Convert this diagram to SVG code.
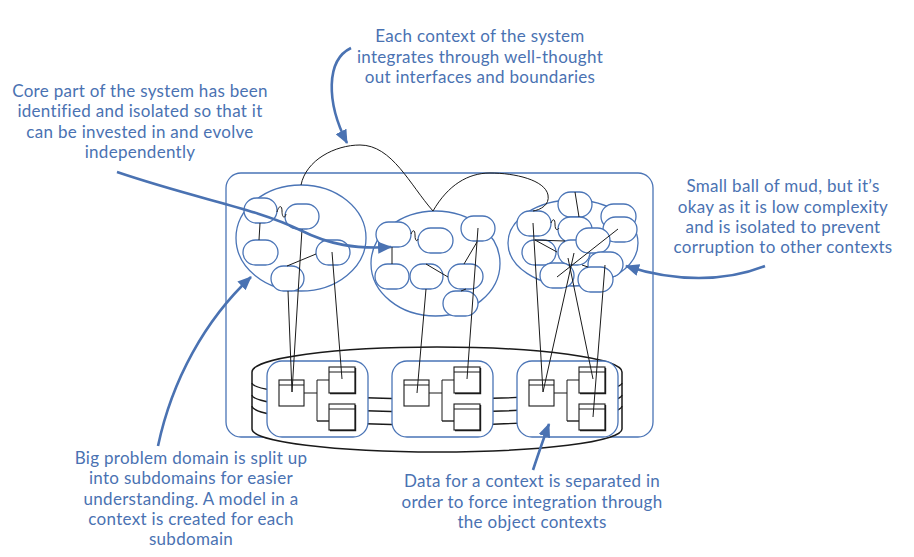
<svg xmlns="http://www.w3.org/2000/svg" width="914" height="557" viewBox="0 0 914 557">
<style>
.txt{font-family:Lato,"Noto Sans","Liberation Sans",sans-serif;font-size:17px;letter-spacing:0.3px;fill:#4a72b2;text-anchor:middle}
.blue{fill:none;stroke:#4a74b6;stroke-width:1.3}
.pill{fill:#fff;stroke:#4a74b6;stroke-width:1.3}
.ln{fill:none;stroke:#1a1a1a;stroke-width:1}
.dk{fill:none;stroke:#1a1a1a;stroke-width:1.4}
.arrow{fill:none;stroke:#4a72b2;stroke-width:2.6}
.box{fill:#fff;stroke:#1a1a1a;stroke-width:1.1}
</style>
<defs>
<marker id="ah" viewBox="0 0 14 12" refX="13" refY="6" markerWidth="14" markerHeight="12" markerUnits="userSpaceOnUse" orient="auto">
<path d="M0,0 L14,6 L0,12 z" fill="#4a72b2"/>
</marker>
<g id="uml">
<rect class="box" x="12" y="19" width="25" height="26"/>
<line class="ln" x1="12" y1="24" x2="37" y2="24"/>
<rect class="box" x="62" y="6" width="26" height="26"/>
<line class="ln" x1="62" y1="11" x2="88" y2="11"/>
<polyline class="dk" points="88.5,7 88.5,32.5 63,32.5" stroke-width="2"/>
<rect class="box" x="62" y="43" width="26" height="26"/>
<line class="ln" x1="62" y1="48" x2="88" y2="48"/>
<polyline class="dk" points="88.5,44 88.5,69.5 63,69.5" stroke-width="2"/>
<path class="ln" d="M37,32 H50 M50,19 V60 M50,19 H62"/>
<path class="dk" d="M50,60 H62" stroke-width="2"/>
</g>
</defs>

<g id="system-boundary">
<rect class="blue" x="226" y="173" width="427" height="264" rx="15"/>
</g>

<g id="database">
<path d="M252,372 A185,25 0 0 1 622,372 L622,429 A185,23 0 0 1 252,429 Z" fill="#fff" stroke="#1a1a1a" stroke-width="1.5"/>
<path class="dk" d="M252,383 A185,16 0 0 0 622,383 M252,395 A185,17 0 0 0 622,395 M252,406 A185,19 0 0 0 622,406"/>
</g>

<g id="db-context-1">
<rect class="pill" x="267" y="361" width="101" height="76" rx="15"/>
<use href="#uml" x="267" y="361"/>
</g>
<g id="db-context-2">
<rect class="pill" x="392" y="361" width="101" height="76" rx="15"/>
<use href="#uml" x="392" y="361"/>
</g>
<g id="db-context-3">
<rect class="pill" x="517" y="361" width="101" height="76" rx="15"/>
<use href="#uml" x="517" y="361"/>
</g>

<g id="context-1">
<ellipse class="blue" cx="301" cy="238" rx="65" ry="53"/>
<rect class="pill" x="244" y="198" width="33" height="25" rx="12.5"/>
<rect class="pill" x="285" y="204" width="34" height="25" rx="12.5"/>
<rect class="pill" x="243" y="240" width="35" height="25" rx="12.5"/>
<rect class="pill" x="316" y="240" width="34" height="25" rx="12.5"/>
<rect class="pill" x="271" y="266" width="33" height="25" rx="12.5"/>
</g>

<g id="context-2">
<ellipse class="blue" cx="435.5" cy="263.5" rx="64.5" ry="52.5"/>
<rect class="pill" x="376" y="222" width="35" height="25" rx="12.5"/>
<rect class="pill" x="418" y="228" width="35" height="25" rx="12.5"/>
<rect class="pill" x="461" y="216" width="34" height="25" rx="12.5"/>
<rect class="pill" x="375" y="264" width="34" height="25" rx="12.5"/>
<rect class="pill" x="410" y="264" width="33" height="25" rx="12.5"/>
<rect class="pill" x="448" y="264" width="35" height="25" rx="12.5"/>
<rect class="pill" x="443" y="291" width="35" height="25" rx="12.5"/>
</g>

<g id="context-3">
<ellipse class="blue" cx="573" cy="243" rx="65" ry="43"/>
<rect class="pill" x="517" y="211" width="34" height="25" rx="12.5"/>
<rect class="pill" x="558" y="192" width="34" height="25" rx="12.5"/>
<rect class="pill" x="601" y="204" width="35" height="25" rx="12.5"/>
<rect class="pill" x="558" y="217" width="34" height="25" rx="12.5"/>
<rect class="pill" x="603" y="217" width="34" height="25" rx="12.5"/>
<rect class="pill" x="522" y="240" width="34" height="25" rx="12.5"/>
<rect class="pill" x="558" y="240" width="32" height="25" rx="12.5"/>
<rect class="pill" x="576" y="228" width="34" height="25" rx="12.5"/>
<rect class="pill" x="588" y="252" width="35" height="25" rx="12.5"/>
<rect class="pill" x="540" y="263" width="34" height="25" rx="12.5"/>
<rect class="pill" x="578" y="267" width="35" height="25" rx="12.5"/>
</g>

<g id="connectors">
<path class="ln" d="M277,212 C279,205 282,205 282,211 C282,218 285,219 286,214"/>
<line class="ln" x1="260" y1="223" x2="259" y2="240"/>
<line class="ln" x1="287" y1="266" x2="316" y2="254"/>
<line class="ln" x1="288" y1="291" x2="292" y2="392"/>
<line class="ln" x1="302" y1="229" x2="292" y2="392"/>
<line class="ln" x1="332" y1="252" x2="342" y2="379"/>

<path class="ln" d="M411,234 C413,229 415,230 415,235 C415,241 417,242 418,239"/>
<line class="ln" x1="392" y1="247" x2="392" y2="264"/>
<line class="ln" x1="426" y1="264" x2="448" y2="277"/>
<line class="ln" x1="477" y1="242" x2="464" y2="264"/>
<line class="ln" x1="461" y1="291" x2="466" y2="289"/>
<line class="ln" x1="478" y1="228" x2="467" y2="379"/>
<line class="ln" x1="426" y1="289" x2="417" y2="393"/>

<path class="ln" d="M551,223 C553,218 555,219 555,224 C555,230 557,231 559,228"/>
<line class="ln" x1="575" y1="192" x2="579" y2="217"/>
<line class="ln" x1="533" y1="223" x2="543" y2="392"/>
<line class="ln" x1="535" y1="240" x2="565" y2="241"/>
<line class="ln" x1="535" y1="240" x2="557" y2="252"/>
<line class="ln" x1="618" y1="229" x2="557" y2="277"/>
<line class="ln" x1="574" y1="253" x2="543" y2="392"/>
<line class="ln" x1="568" y1="258" x2="593" y2="379"/>
<line class="ln" x1="605" y1="265" x2="593" y2="417"/>
<line class="ln" x1="582" y1="265" x2="588" y2="267"/>

<path class="ln" d="M301,185 C306,160 335,145 360,145 C392,145 410,185 433,211"/>
<path class="ln" d="M433,211 C448,185 468,173 490,173 C515,173 545,180 548,195 C550,205 540,210 533,211"/>
</g>

<g id="annotations">
<path class="arrow" marker-end="url(#ah)" d="M351,48 C326,60 326,102 347,143"/>
<path class="arrow" marker-end="url(#ah)" d="M117,172 C200,200 255,208 300,230 C330,245 355,249 391,247"/>
<path class="arrow" marker-end="url(#ah)" d="M765,266 C725,282 675,282 626,266"/>
<path class="arrow" marker-end="url(#ah)" d="M158,446 C172,380 205,320 251,277"/>
<path class="arrow" marker-end="url(#ah)" d="M533,470 C538,455 543,440 549,424"/>
</g>

<g id="labels">
<text class="txt" x="480" y="42">Each context of the system</text>
<text class="txt" x="480" y="63">integrates through well-thought</text>
<text class="txt" x="480" y="83">out interfaces and boundaries</text>

<text class="txt" x="140" y="97">Core part of the system has been</text>
<text class="txt" x="140" y="117">identified and isolated so that it</text>
<text class="txt" x="140" y="138">can be invested in and evolve</text>
<text class="txt" x="140" y="158">independently</text>

<text class="txt" x="783" y="192">Small ball of mud, but it’s</text>
<text class="txt" x="783" y="213">okay as it is low complexity</text>
<text class="txt" x="783" y="233">and is isolated to prevent</text>
<text class="txt" x="783" y="253">corruption to other contexts</text>

<text class="txt" x="191" y="464">Big problem domain is split up</text>
<text class="txt" x="191" y="484">into subdomains for easier</text>
<text class="txt" x="191" y="505">understanding. A model in a</text>
<text class="txt" x="191" y="525">context is created for each</text>
<text class="txt" x="191" y="545">subdomain</text>

<text class="txt" x="532" y="487">Data for a context is separated in</text>
<text class="txt" x="532" y="508">order to force integration through</text>
<text class="txt" x="532" y="528">the object contexts</text>
</g>
</svg>
